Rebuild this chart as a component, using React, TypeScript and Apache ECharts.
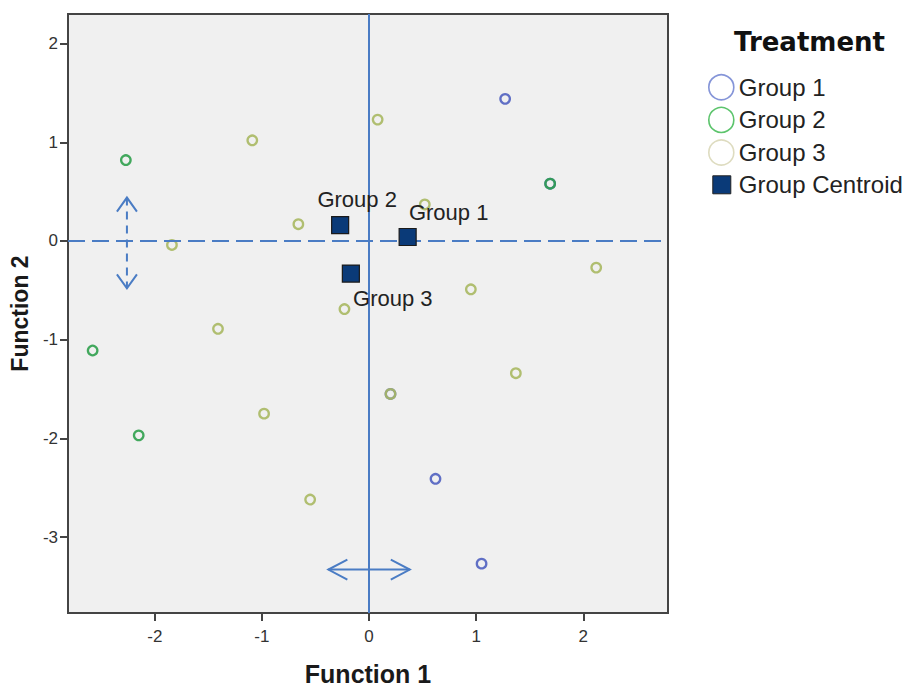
import React, { useEffect, useRef } from "react";
import * as echarts from "echarts";

// Data (Function 1, Function 2)
const group1Points: number[][] = [
  [1.27, 1.44],
  [1.69, 0.58],
  [0.2, -1.55],
  [0.62, -2.41],
  [1.05, -3.27],
];
const group2Points: number[][] = [
  [-2.27, 0.82],
  [1.69, 0.58],
  [-2.58, -1.11],
  [-2.15, -1.97],
];
const group3Points: number[][] = [
  [0.08, 1.23],
  [-1.09, 1.02],
  [0.52, 0.37],
  [-0.66, 0.17],
  [-1.84, -0.04],
  [2.12, -0.27],
  [0.95, -0.49],
  [-0.23, -0.69],
  [-1.41, -0.89],
  [1.37, -1.34],
  [0.2, -1.55],
  [-0.98, -1.75],
  [-0.55, -2.62],
];
const centroidNames: string[] = ["Group 1", "Group 2", "Group 3"];
const centroidPoints: number[][] = [
  [0.36, 0.04],
  [-0.27, 0.16],
  [-0.17, -0.33],
];
const xTicks: number[] = [-2, -1, 0, 1, 2];
const yTicks: number[] = [-3, -2, -1, 0, 1, 2];
const arrowHorizontal: number[][] = [[-0.38, -3.33, 0.38, -3.33]];
const arrowVertical: number[][] = [[-2.26, 0.44, -2.26, -0.48]];

const BLUE_LINE = "#4a7cc4";
const FONT = "'Liberation Sans', Arial, sans-serif";

function makeArrowRender(dashed: boolean) {
  return (params: any, api: any) => {
    const p1 = api.coord([api.value(0), api.value(1)]);
    const p2 = api.coord([api.value(2), api.value(3)]);
    const dx = p2[0] - p1[0];
    const dy = p2[1] - p1[1];
    const len = Math.sqrt(dx * dx + dy * dy) || 1;
    const ux = dx / len;
    const uy = dy / len;
    const nx = -uy;
    const ny = ux;
    const L = dashed ? 14 : 19;
    const W = 10;
    const style: any = {
      stroke: BLUE_LINE,
      lineWidth: 2,
      fill: "none",
    };
    if (dashed) style.lineDash = [8, 6];
    const headStyle = { stroke: BLUE_LINE, lineWidth: 2, fill: "none" };
    return {
      type: "group",
      children: [
        {
          type: "line",
          shape: { x1: p1[0], y1: p1[1], x2: p2[0], y2: p2[1] },
          style,
        },
        {
          type: "polyline",
          shape: {
            points: [
              [p2[0] - ux * L + nx * W, p2[1] - uy * L + ny * W],
              [p2[0], p2[1]],
              [p2[0] - ux * L - nx * W, p2[1] - uy * L - ny * W],
            ],
          },
          style: headStyle,
        },
        {
          type: "polyline",
          shape: {
            points: [
              [p1[0] + ux * L + nx * W, p1[1] + uy * L + ny * W],
              [p1[0], p1[1]],
              [p1[0] + ux * L - nx * W, p1[1] + uy * L - ny * W],
            ],
          },
          style: headStyle,
        },
      ],
    };
  };
}

export default function App() {
  const ref = useRef<HTMLDivElement>(null);

  useEffect(() => {
    if (!ref.current) return;
    const chart = echarts.init(ref.current, null, { renderer: "svg" });

    const pointSeries = (name: string, data: number[][], color: string) => ({
      name,
      type: "scatter",
      data,
      symbol: "circle",
      symbolSize: 9.5,
      itemStyle: { color: "rgba(0,0,0,0)", borderColor: color, borderWidth: 2.3, opacity: 0.9 },
      z: 3,
    });

    const option: any = {
      animation: false,
      backgroundColor: "#ffffff",
      textStyle: { fontFamily: FONT },
      title: {
        text: "Treatment",
        left: 721,
        top: 16,
        textStyle: { fontFamily: "'DejaVu Sans', sans-serif", fontSize: 26, fontWeight: "bold", color: "#111" },
      },
      legend: {
        orient: "vertical",
        left: 695,
        top: 61,
        itemWidth: 25,
        itemHeight: 25,
        itemGap: 6,
        selectedMode: false,
        textStyle: { fontFamily: FONT, fontSize: 24, color: "#222" },
        data: [
          {
            name: "Group 1",
            icon: "circle",
            itemStyle: { color: "rgba(0,0,0,0)", borderColor: "#8595d8", borderWidth: 1.6, opacity: 1 },
          },
          {
            name: "Group 2",
            icon: "circle",
            itemStyle: { color: "rgba(0,0,0,0)", borderColor: "#5cc46c", borderWidth: 1.6, opacity: 1 },
          },
          {
            name: "Group 3",
            icon: "circle",
            itemStyle: { color: "rgba(0,0,0,0)", borderColor: "#dedcc0", borderWidth: 1.6, opacity: 1 },
          },
          {
            name: "Group Centroid",
            icon: "path://M0,0M25,25M4,3.5L22,3.5L22,21.5L4,21.5Z",
            itemStyle: { color: "#0a3a78", borderColor: "#222", borderWidth: 1, opacity: 1 },
          },
        ],
      },
      grid: {
        left: 60,
        top: 6,
        width: 600,
        height: 599,
        show: true,
        backgroundColor: "#f0f0f0",
        borderColor: "#444",
        borderWidth: 2,
        outerBoundsMode: "none",
        containLabel: false,
      },
      xAxis: {
        type: "value",
        min: -2.81,
        max: 2.79,
        name: "Function 1",
        nameLocation: "middle",
        nameGap: 48,
        nameTextStyle: { fontFamily: FONT, fontSize: 25, fontWeight: "bold", color: "#1a1a1a" },
        splitLine: { show: false },
        axisLine: { show: true, onZero: false, lineStyle: { color: "#444", width: 2 } },
        axisTick: { show: true, customValues: xTicks, length: 8, lineStyle: { color: "#444", width: 2 } },
        axisLabel: {
          customValues: xTicks,
          fontFamily: FONT,
          fontSize: 17,
          color: "#333",
          margin: 15,
        },
      },
      yAxis: {
        type: "value",
        min: -3.77,
        max: 2.3,
        name: "Function 2",
        nameLocation: "middle",
        nameGap: 22,
        nameRotate: 90,
        nameTextStyle: { fontFamily: FONT, fontSize: 23, fontWeight: "bold", color: "#1a1a1a" },
        splitLine: { show: false },
        axisLine: { show: true, onZero: false, lineStyle: { color: "#444", width: 2 } },
        axisTick: { show: true, customValues: yTicks, length: 8, lineStyle: { color: "#444", width: 2 } },
        axisLabel: {
          customValues: yTicks,
          fontFamily: FONT,
          fontSize: 17,
          color: "#333",
          margin: 10,
        },
      },
      series: [
        {
          name: "refLines",
          type: "scatter",
          data: [],
          silent: true,
          markLine: {
            silent: true,
            symbol: "none",
            label: { show: false },
            animation: false,
            data: [
              { xAxis: 0, lineStyle: { color: BLUE_LINE, width: 2, type: "solid" } },
              { yAxis: 0, lineStyle: { color: BLUE_LINE, width: 2, type: [17, 7] } },
            ],
          },
          z: 2,
        },
        pointSeries("Group 1", group1Points, "#5060c0"),
        pointSeries("Group 2", group2Points, "#2fa04c"),
        pointSeries("Group 3", group3Points, "#a8b862"),
        {
          name: "Group Centroid",
          type: "scatter",
          data: centroidPoints.map((p, i) => ({ value: p, name: centroidNames[i] })),
          symbol: "rect",
          symbolSize: 17,
          itemStyle: { color: "#0a3a78", borderColor: "#1a1a1a", borderWidth: 1.2, opacity: 1 },
          label: {
            show: true,
            formatter: (p: any) => p.name,
            fontFamily: FONT,
            fontSize: 22,
            color: "#222",
            position: "top",
          },
          labelLayout: (p: any) => {
            const offsets: Record<number, number[]> = {
              0: [41, -25],
              1: [17, -26],
              2: [42, 25],
            };
            const o = offsets[p.dataIndex] || [0, 0];
            const r = p.rect;
            const cx = r.x + r.width / 2;
            const cy = r.y + r.height / 2;
            return {
              x: cx + o[0],
              y: cy + o[1],
              align: "center",
              verticalAlign: "middle",
            };
          },
          z: 5,
        },
        {
          name: "arrowH",
          type: "custom",
          coordinateSystem: "cartesian2d",
          data: arrowHorizontal,
          renderItem: makeArrowRender(false),
          clip: false,
          silent: true,
          z: 4,
        },
        {
          name: "arrowV",
          type: "custom",
          coordinateSystem: "cartesian2d",
          data: arrowVertical,
          renderItem: makeArrowRender(true),
          clip: false,
          silent: true,
          z: 4,
        },
      ],
    };

    chart.setOption(option);
    return () => chart.dispose();
  }, []);

  return <div ref={ref} style={{ width: 903, height: 679 }} />;
}
